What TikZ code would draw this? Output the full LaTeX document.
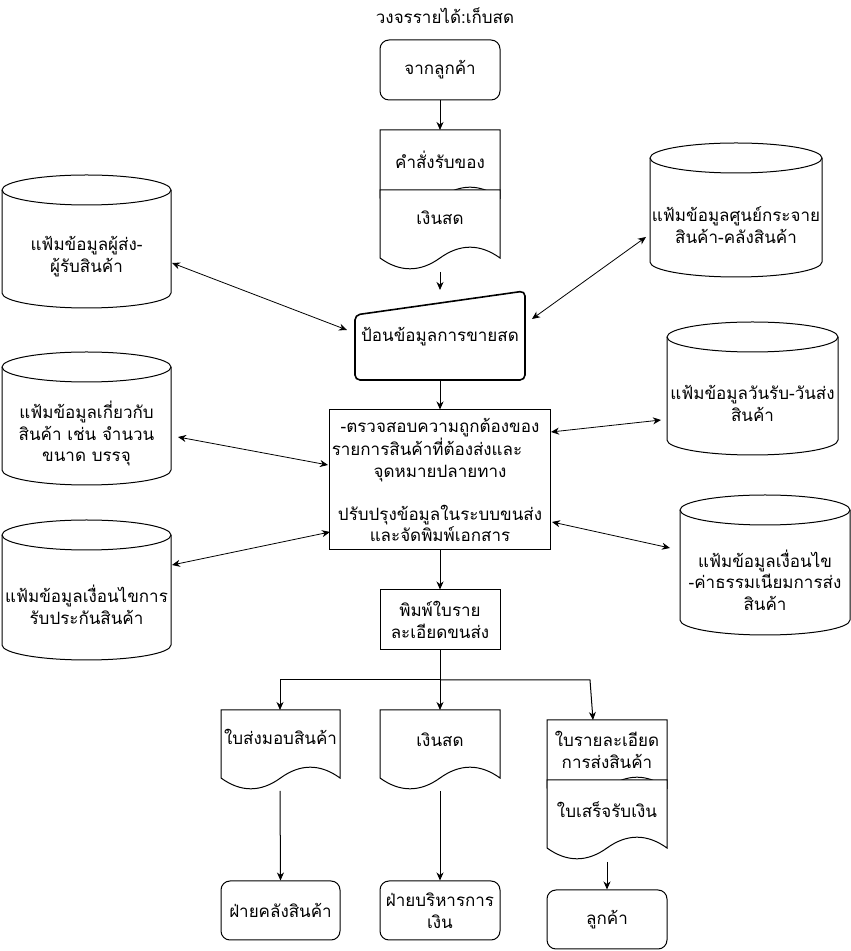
\documentclass[tikz,border=0pt]{standalone}
\usepackage{fontspec}
\newfontfamily\thaifont[Script=Thai]{Loma}
\usetikzlibrary{arrows.meta}
\newcommand{\mycyl}[6]{%
 \pgfmathsetmacro\myrx{(#4-#2)/2}%
 \draw[fill=white] (#2,951-#3-15) -- (#2,951-#5+15) arc[start angle=180,end angle=360,x radius=\myrx pt,y radius=15pt] -- (#4,951-#3-15) arc[start angle=0,end angle=180,x radius=\myrx pt,y radius=15pt] -- cycle;
 \draw (#2,951-#3-15) arc[start angle=180,end angle=360,x radius=\myrx pt,y radius=15pt];
 \node[txt] (#1) at ({(#2+#4)/2},{951-(#3+30+#5)/2}) {#6};
}
\newcommand{\mydoc}[4]{%
 \pgfmathsetmacro\mdw{#3-#1}%
 \pgfmathsetmacro\mddy{0.3*#4}%
 \pgfmathsetmacro\mdT{951-#2}%
 \pgfmathsetmacro\mdE{951-(#2+#4-\mddy/2)}%
 \pgfmathsetmacro\mdQa{951-(#2+#4-1.4*\mddy)}%
 \pgfmathsetmacro\mdQb{951-(#2+#4+0.4*\mddy)}%
 \pgfmathsetmacro\mdXm{#1+0.5*\mdw}%
 \pgfmathsetmacro\mdXa{#1+0.75*\mdw}%
 \pgfmathsetmacro\mdXb{#1+0.25*\mdw}%
 \pgfmathsetmacro\mdCax{#3+2/3*(\mdXa-#3)}%
 \pgfmathsetmacro\mdCbx{\mdXm+2/3*(\mdXa-\mdXm)}%
 \pgfmathsetmacro\mdCay{\mdE+2/3*(\mdQa-\mdE)}%
 \pgfmathsetmacro\mdCcx{\mdXm+2/3*(\mdXb-\mdXm)}%
 \pgfmathsetmacro\mdCdx{#1+2/3*(\mdXb-#1)}%
 \pgfmathsetmacro\mdCcy{\mdE+2/3*(\mdQb-\mdE)}%
 \draw[fill=white] (#1,\mdT) -- (#3,\mdT) -- (#3,\mdE) .. controls (\mdCax,\mdCay) and (\mdCbx,\mdCay) .. (\mdXm,\mdE) .. controls (\mdCcx,\mdCcy) and (\mdCdx,\mdCcy) .. (#1,\mdE) -- cycle;
}
\tikzset{
 txt/.style={font=\thaifont\fontsize{17}{21.5}\selectfont, align=center, inner sep=0pt},
 rbox/.style={draw, rounded corners=9pt, fill=white, txt, minimum width=120pt, minimum height=60pt},
 sbox/.style={draw, fill=white, txt},
 tip/.tip={Stealth[length=8pt,width=7pt,inset=2.5pt]},
 arr/.style={-tip},
 darr/.style={tip-tip},
}
\begin{document}
\begin{tikzpicture}[x=1pt,y=1pt,line width=1pt]
\fill[white] (0,0) rectangle (851,951);
\useasboundingbox (0,0) rectangle (851,951);

% title
\node[txt] (title) at (445,951-16) {วงจรรายได้:เก็บสด};

% start
\node[rbox] (start) at (440,951-70) {จากลูกค้า};

% composite document: order + cash
\mydoc{380}{130}{500}{80}
\mydoc{380}{190}{500}{80}
\node[txt] (order) at (440,951-160) {คำสั่งรับของ};
\node[txt] (cash1) at (440,951-218) {เงินสด};
\coordinate (doctop) at (440,951-130);
\coordinate (docbot) at (440,951-272);

% manual input
\draw[line width=1.6pt, fill=white, rounded corners=5pt] (355,951-315) -- (525,951-291) -- (525,951-380) -- (355,951-380) -- cycle;
\node[txt] (input) at (440,951-337) {ป้อนข้อมูลการขายสด};
\coordinate (intop) at (440,951-290);
\coordinate (inbot) at (440,951-380);

% process
\node[sbox, minimum width=221pt, minimum height=140pt] (proc) at (440,951-480) {};
\node[txt] (proctext) at (440,951-480) {-ตรวจสอบความถูกต้องของ\\\hbox{รายการสินค้าที่ต้องส่งและ\kern26pt}\\จุดหมายปลายทาง\\[21.5pt]ปรับปรุงข้อมูลในระบบขนส่ง\\และจัดพิมพ์เอกสาร};

% print
\node[sbox, minimum width=120pt, minimum height=60pt] (print) at (440,951-620) {พิมพ์ใบราย\\ละเอียดขนส่ง};

% lower documents
\mydoc{221}{710}{340}{80}
\node[txt] (deliv) at (280.5,951-737) {ใบส่งมอบสินค้า};
\mydoc{380}{710}{500}{80}
\node[txt] (cash2) at (440,951-740) {เงินสด};
\mydoc{547}{720}{667}{80}
\mydoc{547}{780}{667}{80}
\node[txt] (detail) at (607,951-750) {ใบรายละเอียด\\การส่งสินค้า};
\node[txt] (receipt) at (607,951-810) {ใบเสร็จรับเงิน};

\coordinate (d1top) at (280,951-710);
\coordinate (d2top) at (440,951-710);
\coordinate (d3top) at (593,951-720);
\coordinate (br) at (440,951-680);
\coordinate (brr) at (590,951-680);
\coordinate (d1bot) at (280,951-791);
\coordinate (d2bot) at (440,951-791);
\coordinate (d3bot) at (607,951-862);

% bottom boxes
\node[rbox, minimum width=119pt, minimum height=59pt] (store) at (280.5,951-910.5) {ฝ่ายคลังสินค้า};
\node[rbox, minimum width=120pt, minimum height=59pt] (finance) at (440,951-910.5) {ฝ่ายบริหารการ\\เงิน};
\node[rbox, minimum width=120pt, minimum height=59pt] (cust) at (607,951-919.5) {ลูกค้า};

% cylinders
\mycyl{cylA}{2}{175}{171}{308}{แฟ้มข้อมูลผู้ส่ง-\\ผู้รับสินค้า}
\mycyl{cylB}{2}{352}{171}{485}{แฟ้มข้อมูลเกี่ยวกับ\\สินค้า เช่น จำนวน\\ขนาด บรรจุ}
\mycyl{cylC}{2}{520}{171}{660}{แฟ้มข้อมูลเงื่อนไขการ\\รับประกันสินค้า}
\mycyl{cylD}{650}{143}{822}{277}{แฟ้มข้อมูลศูนย์กระจาย\\สินค้า-คลังสินค้า}
\mycyl{cylE}{667}{322}{838}{455}{แฟ้มข้อมูลวันรับ-วันส่ง\\สินค้า}
\mycyl{cylF}{680}{495}{850}{635}{แฟ้มข้อมูลเงื่อนไข\\-ค่าธรรมเนียมการส่ง\\สินค้า}

% connector end points
\coordinate (aA1) at (172,951-263);
\coordinate (aA2) at (347,951-330);
\coordinate (aB1) at (178,951-437);
\coordinate (aB2) at (328,951-465);
\coordinate (aC1) at (172,951-565);
\coordinate (aC2) at (330,951-532);
\coordinate (aD1) at (646,951-237);
\coordinate (aD2) at (532,951-319);
\coordinate (aE1) at (551,951-432);
\coordinate (aE2) at (661,951-420);
\coordinate (aF1) at (552,951-522);
\coordinate (aF2) at (670,951-548);

% connectors
\draw[arr] (start.south) -- (doctop);
\draw[arr] (docbot) -- (intop);
\draw[arr] (inbot) -- (proc.north);
\draw[arr] (proc.south) -- (print.north);
\draw[arr] (print.south) -- (d2top);
\draw[arr] (br) -| (d1top);
\draw[arr] (br) -- (brr) -- (d3top);
\draw[arr] (d1bot) -- (store.north);
\draw[arr] (d2bot) -- (finance.north);
\draw[arr] (d3bot) -- (cust.north);

\draw[darr, line width=0.8pt] (aA1) -- (aA2);
\draw[darr, line width=0.8pt] (aB1) -- (aB2);
\draw[darr, line width=0.8pt] (aC1) -- (aC2);
\draw[darr, line width=0.8pt] (aD1) -- (aD2);
\draw[darr, line width=0.8pt] (aE1) -- (aE2);
\draw[darr, line width=0.8pt] (aF1) -- (aF2);
\end{tikzpicture}
\end{document}
